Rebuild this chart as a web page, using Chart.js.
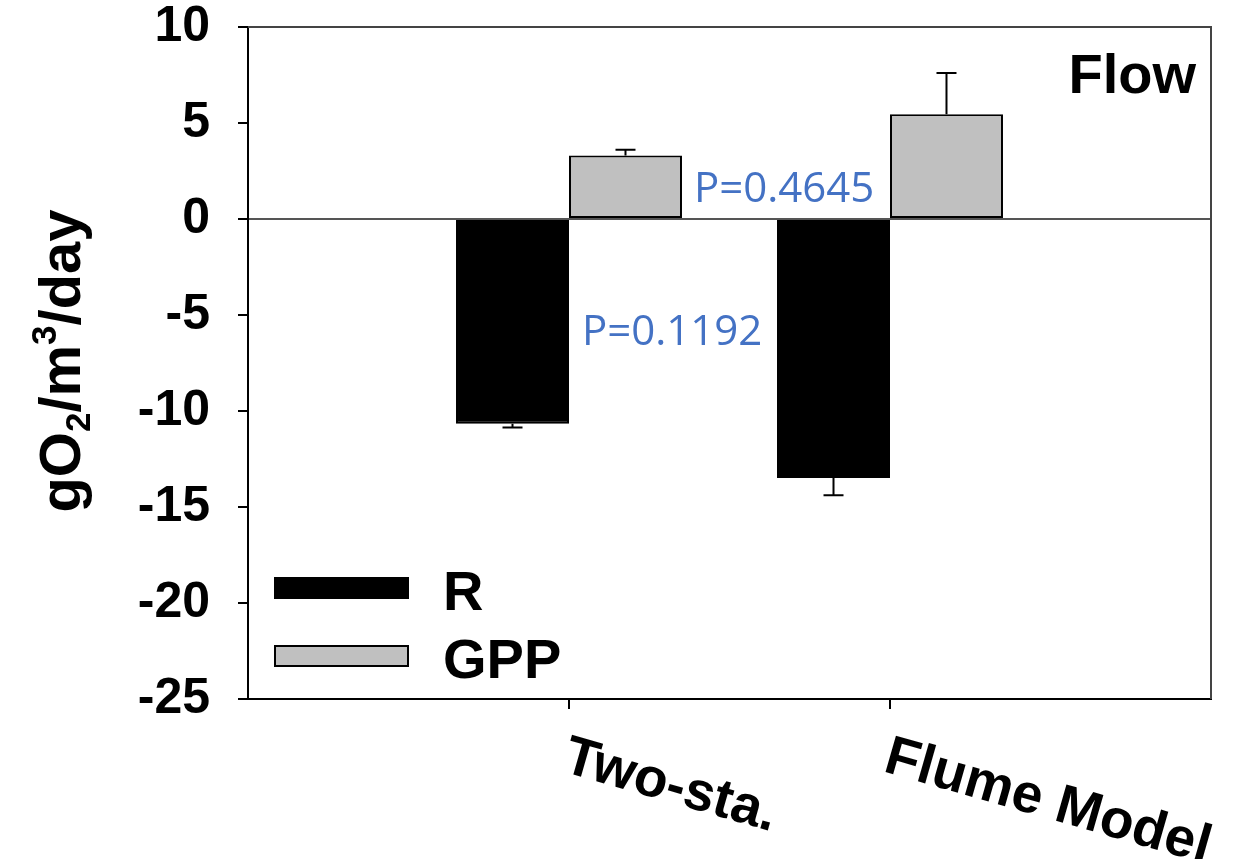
<!DOCTYPE html>
<html>
<head>
<meta charset="utf-8">
<script src="https://cdn.jsdelivr.net/npm/chart.js@4.4.0/dist/chart.umd.min.js"></script>
<style>
  body { margin: 0; background: #fff; }
  #wrap { width: 1246px; height: 859px; }
</style>
</head>
<body>
<div id="wrap"><canvas id="chart"></canvas></div>
<script>
// data
const categories = ['Two-sta.', 'Flume Model'];
const rValues = [-10.66, -13.49];
const rErrors = [0.2, 0.9];
const gppValues = [3.31, 5.45];
const gppErrors = [0.3, 2.15];
const yMin = -25, yMax = 10, yStep = 5;
const pLabels = ['P=0.4645', 'P=0.1192'];

const FONT = "'Liberation Sans', Arial, sans-serif";

// empty slots at both ends so the two groups sit at 1/3 and 2/3 of the axis
const axisLabels = ['', ...categories, ''];
const pad = arr => [null, ...arr, null];

// one-sided error bars, drawn away from zero
const errorBars = {
  id: 'errorBars',
  afterDatasetsDraw(chart) {
    const ctx = chart.ctx, y = chart.scales.y;
    ctx.save();
    ctx.strokeStyle = '#000';
    ctx.lineWidth = 2;
    chart.data.datasets.forEach((ds, i) => {
      const meta = chart.getDatasetMeta(i);
      meta.data.forEach((el, j) => {
        const v = ds.data[j];
        if (v == null) return;
        const err = ds.errors[j - 1];
        const yEnd = y.getPixelForValue(v + Math.sign(v) * err);
        ctx.beginPath();
        ctx.moveTo(el.x, el.y);
        ctx.lineTo(el.x, yEnd);
        ctx.moveTo(el.x - 10, yEnd);
        ctx.lineTo(el.x + 10, yEnd);
        ctx.stroke();
      });
    });
    ctx.restore();
  }
};

// frame, rotated category labels, axis title, legend and notes
const decor = {
  id: 'decor',
  afterDraw(chart) {
    const ctx = chart.ctx, a = chart.chartArea, x = chart.scales.x;
    ctx.save();

    // top and right frame
    ctx.strokeStyle = '#444';
    ctx.lineWidth = 2;
    ctx.beginPath();
    ctx.moveTo(a.left, a.top);
    ctx.lineTo(a.right, a.top);
    ctx.lineTo(a.right, a.bottom);
    ctx.stroke();

    // category labels, sloping down to the right
    ctx.fillStyle = '#000';
    ctx.font = 'bold 55px ' + FONT;
    ctx.textAlign = 'left';
    ctx.textBaseline = 'alphabetic';
    categories.forEach((c, i) => {
      const px = x.getPixelForValue(i + 1);
      ctx.save();
      ctx.translate(px - 8, a.bottom + 72);
      ctx.rotate(16 * Math.PI / 180);
      ctx.fillText(c, 0, 0);
      ctx.restore();
    });

    // y title gO2/m3/day with sub and superscript
    const big = 58, small = 35;
    const parts = [
      ['gO', big, 0], ['2', small, 10], ['/m', big, 0], ['3', small, -24], ['/day', big, 0]
    ];
    let total = 0;
    parts.forEach(p => { ctx.font = 'bold ' + p[1] + 'px ' + FONT; total += ctx.measureText(p[0]).width; });
    ctx.save();
    ctx.translate(80, 361);
    ctx.rotate(-Math.PI / 2);
    let cx = -total / 2;
    parts.forEach(p => {
      ctx.font = 'bold ' + p[1] + 'px ' + FONT;
      ctx.fillText(p[0], cx, p[2]);
      cx += ctx.measureText(p[0]).width;
    });
    ctx.restore();

    // legend
    const ds = chart.data.datasets;
    ctx.font = 'bold 56px ' + FONT;
    ds.forEach((d, i) => {
      const top = 578 + i * 68;
      ctx.fillStyle = d.backgroundColor;
      ctx.fillRect(275, top, 133, 20);
      ctx.strokeStyle = '#000';
      ctx.lineWidth = 2;
      ctx.strokeRect(275, top, 133, 20);
      ctx.fillStyle = '#000';
      ctx.fillText(d.label, 443, top + 32);
    });

    // panel tag
    ctx.textAlign = 'right';
    ctx.fillText('Flow', 1196, 93);

    // p-values
    ctx.textAlign = 'left';
    ctx.fillStyle = '#4472C4';
    ctx.font = "42px 'Open Sans', sans-serif";
    ctx.fillText(pLabels[0], 694, 202);
    ctx.fillText(pLabels[1], 582, 345);

    ctx.restore();
  }
};

new Chart(document.getElementById('chart'), {
  type: 'bar',
  data: {
    labels: axisLabels,
    datasets: [
      { label: 'R', data: pad(rValues), errors: rErrors, backgroundColor: '#000000',
        borderColor: '#000000', borderWidth: 2, borderSkipped: false },
      { label: 'GPP', data: pad(gppValues), errors: gppErrors, backgroundColor: '#c0c0c0',
        borderColor: '#000000', borderWidth: 2, borderSkipped: false }
    ]
  },
  options: {
    responsive: true,
    maintainAspectRatio: false,
    animation: false,
    layout: { padding: { top: 27, right: 35, left: 0, bottom: 0 } },
    datasets: { bar: { categoryPercentage: 0.704, barPercentage: 1 } },
    plugins: { legend: { display: false }, tooltip: { enabled: false } },
    scales: {
      x: {
        offset: false,
        ticks: { display: false },
        grid: {
          offset: false,
          drawOnChartArea: false, tickLength: 10, lineWidth: 2,
          tickColor: c => (c.index === 1 || c.index === 2) ? '#000' : 'rgba(0,0,0,0)'
        },
        border: { color: '#000', width: 2 },
        afterFit(s) { s.height = 160; s.paddingLeft = 0; s.paddingRight = 0; }
      },
      y: {
        min: yMin, max: yMax,
        ticks: { stepSize: yStep, color: '#000', padding: 28, font: { family: FONT, size: 50, weight: 'bold' } },
        grid: {
          tickLength: 10, lineWidth: 2, tickColor: '#000',
          color: c => c.tick && c.tick.value === 0 ? '#555' : 'rgba(0,0,0,0)'
        },
        border: { color: '#000', width: 2 },
        afterFit(s) { s.width = 248; s.paddingTop = 0; s.paddingBottom = 0; }
      }
    }
  },
  plugins: [errorBars, decor]
});
</script>
</body>
</html>
